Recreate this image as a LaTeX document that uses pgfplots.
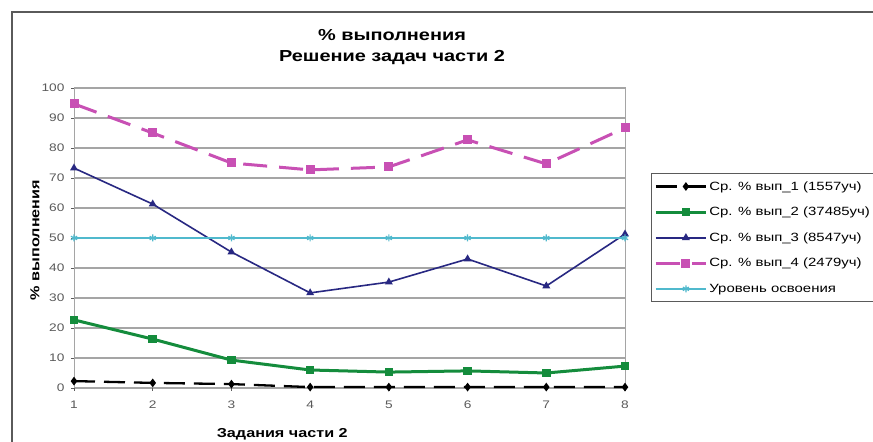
\documentclass[border=0pt]{standalone}
\usepackage{pgfplots}
\pgfplotsset{compat=1.18}
\usepackage{fontspec}
\setmainfont[FakeStretch=1.25]{Liberation Sans}
\definecolor{cblack}{RGB}{0,0,0}
\definecolor{cgreen}{RGB}{20,140,60}
\definecolor{cnavy}{RGB}{40,40,130}
\definecolor{cpink}{RGB}{200,80,180}
\definecolor{ccyan}{RGB}{80,185,205}
\definecolor{cgrid}{RGB}{165,165,165}
\definecolor{ctick}{RGB}{90,90,90}
\begin{document}
\begin{tikzpicture}[x=1bp,y=1bp]
\clip (0,0) rectangle (873,442);
\fill[white] (0,0) rectangle (873,442);
\draw[color=ctick,line width=1.5bp] (12,-10) rectangle (890,430);
\node[font=\bfseries\fontsize{16}{18}\selectfont] at (392,407) {\% выполнения};
\node[font=\bfseries\fontsize{16}{18}\selectfont] at (392,384) {Решение задач части 2};
\begin{axis}[
  scale only axis, width=551bp, height=300bp,
  at={(74bp,54bp)}, anchor=south west,
  xmin=1, xmax=8, ymin=0, ymax=100,
  xtick={1,...,8}, ytick={0,10,...,100},
  ymajorgrids, grid style={cgrid,line width=1.3bp},
  axis line style={cgrid,line width=1bp},
  tick style={ctick,line width=0.6bp},
  tick align=outside, major tick length=3bp,
  xtick pos=bottom, ytick pos=left,
  /pgf/number format/assume math mode=true,
  tick label style={font=\fontsize{11}{13}\selectfont, text=ctick},
  xticklabel style={yshift=-6bp},
  yticklabel style={xshift=-3bp},
  xlabel={Задания части 2},
  xlabel style={font=\bfseries\fontsize{13}{15}\selectfont, at={(axis description cs:0.378,-0.153)}, anchor=center},
  ylabel={\% выполнения},
  ylabel style={font=\bfseries\fontsize{13}{15}\selectfont, at={(axis description cs:-0.0708,0.493)}, anchor=center, rotate=0},
  legend style={at={(1.047,0.717)}, anchor=north west, draw=ctick, line width=1bp,
     font=\fontsize{12}{14}\selectfont, row sep=11.5bp, inner ysep=6bp, inner xsep=3bp,
     cells={anchor=west}},
  legend image code/.code={\draw[mark repeat=2,mark phase=2,#1] plot coordinates {(0bp,0bp) (30bp,0bp) (50bp,0bp)};},
  clip=false,
]
\addplot[cblack, line width=2.3bp, dash pattern=on 21bp off 9bp, mark=diamond*, mark size=2.5bp, mark options={solid}]
 coordinates {(1,2.3) (2,1.7) (3,1.3) (4,0.3) (5,0.3) (6,0.3) (7,0.3) (8,0.3)};
\addlegendentry{Ср. \% вып\_1 (1557уч)}
\addplot[cgreen, line width=3bp, mark=square*, mark size=2.8bp, mark options={solid}]
 coordinates {(1,22.7) (2,16.3) (3,9.3) (4,6) (5,5.3) (6,5.7) (7,5) (8,7.3)};
\addlegendentry{Ср. \% вып\_2 (37485уч)}
\addplot[cnavy, line width=1.6bp, mark=triangle*, mark size=3bp, mark options={solid}]
 coordinates {(1,73.3) (2,61.3) (3,45.3) (4,31.7) (5,35.3) (6,43) (7,34) (8,51.3)};
\addlegendentry{Ср. \% вып\_3 (8547уч)}
\addplot[cpink, line width=3bp, dash pattern=on 24bp off 12bp, mark=square*, mark size=3bp, mark options={solid}]
 coordinates {(1,94.7) (2,85) (3,75) (4,72.7) (5,73.7) (6,82.7) (7,74.7) (8,86.7)};
\addlegendentry{Ср. \% вып\_4 (2479уч)}
\addplot[ccyan, line width=2.5bp, mark=asterisk, mark size=3.5bp, mark options={solid,line width=1.2bp}]
 coordinates {(1,50) (2,50) (3,50) (4,50) (5,50) (6,50) (7,50) (8,50)};
\addlegendentry{Уровень освоения}
\end{axis}
\end{tikzpicture}
\end{document}
